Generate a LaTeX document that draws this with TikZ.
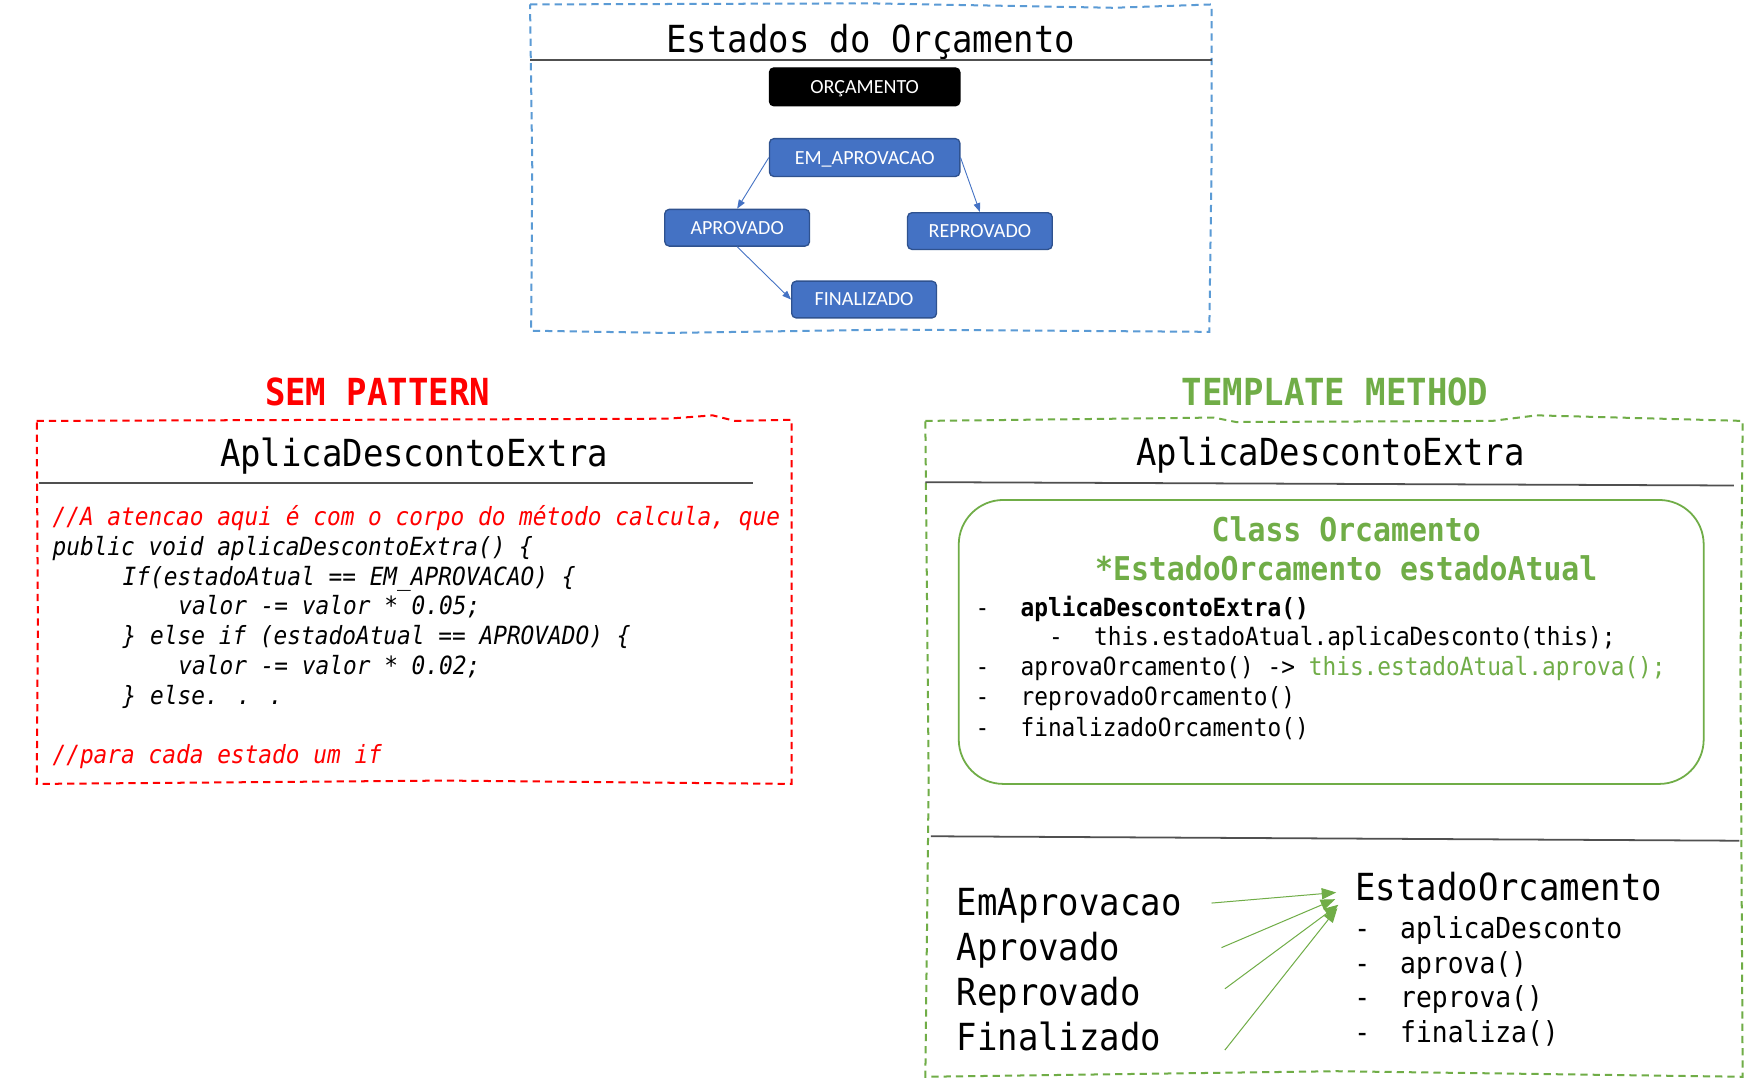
\documentclass[tikz,border=0pt]{standalone}
\usepackage{fontspec}
\setmainfont{Carlito}
\newfontfamily\monof[FakeStretch=0.91]{DejaVu Sans Mono}
\usetikzlibrary{positioning, arrows.meta}

\definecolor{boxblue}{HTML}{4472C4}
\definecolor{boxline}{HTML}{2F528F}
\definecolor{dashblue}{HTML}{5B9BD5}
\definecolor{pgreen}{HTML}{70AD47}
\definecolor{pred}{HTML}{FF0000}
\definecolor{rulegray}{HTML}{505050}

\tikzset{
    estado/.style={rectangle, rounded corners=4pt, draw=boxline, line width=1.2pt,
        fill=boxblue, text=white, minimum width=130pt, minimum height=33pt,
        text height=11.6pt, text depth=0pt, font=\fontsize{18}{20}\selectfont},
    titulo/.style={anchor=base, inner sep=0, font=\monof\fontsize{33.5}{36}\selectfont},
    codigo/.style={anchor=base west, inner sep=0, font=\monof\fontsize{22.5}{25}\selectfont},
    borda/.style={line width=1.8pt, dash pattern=on 6.5pt off 4.5pt},
    regua/.style={draw=rulegray, line width=1.6pt},
    seta/.style={draw=boxblue, line width=0.8pt, -{Triangle[length=8pt, width=6pt]}},
    setaverde/.style={draw=pgreen, line width=0.9pt, -{Triangle[length=13pt, width=10pt]}}
}

\begin{document}
\begin{tikzpicture}[x=1pt, y=-1pt]
    \fill[white] (0,0) rectangle (1568,971);
    \useasboundingbox (0,0) rectangle (1568,971);

    % estados do orcamento
    \draw[borda, dashblue] (476,4) -- (780,3) -- (1000,7) -- (1088,4) -- (1088,150)
        -- (1086,298) -- (800,296) -- (600,299) -- (477,297) -- (478,150) -- cycle;
    \node[titulo] (estTit) at (782,47) {Estados do Orçamento};
    \draw[regua] (476,54) -- (1088,54);

    \node[estado, fill=black, draw=black, minimum width=171pt, minimum height=34pt] (orc) at (776.5,78) {ORÇAMENTO};
    \node[estado, minimum width=171pt, minimum height=34pt] (emaprov) at (776.5,141.5) {EM\_APROVACAO};
    \node[estado] (aprov) at (662,204.5) {APROVADO};
    \node[estado] (reprov) at (880,207.5) {REPROVADO};
    \node[estado] (final) at (776,269) {FINALIZADO};

    \draw[seta] (emaprov.west) -- (aprov.north);
    \draw[seta] (emaprov.east) -- (reprov.north);
    \draw[seta] (aprov.south) -- (final.west);

    % sem pattern
    \node[titulo, text=pred, font=\monof\bfseries\fontsize{33.5}{36}\selectfont] (semTit) at (339,364) {SEM PATTERN};
    \draw[borda, pred] (33,378) -- (600,376) -- (640,373) -- (660,378) -- (711,377)
        -- (711,704) -- (400,701) -- (33,704) -- (34,560) -- cycle;
    \node[titulo] (semCls) at (372,419) {AplicaDescontoExtra};
    \draw[regua] (35,434) -- (676,434);

    \node[codigo, text=pred] (c1) at (47,472) {\itshape //A atencao aqui é com o corpo do método calcula, que};
    \node[codigo] (c2) at (47,499) {\itshape public void aplicaDescontoExtra() \{};
    \node[codigo] (c3) at (110,526) {\itshape If(estadoAtual == EM\_APROVACAO) \{};
    \node[codigo] (c4) at (160,552) {\itshape valor -= valor * 0.05;};
    \node[codigo] (c5) at (110,579) {\itshape \} else if (estadoAtual == APROVADO) \{};
    \node[codigo] (c6) at (160,606) {\itshape valor -= valor * 0.02;};
    \node[codigo] (c7) at (110,633) {\itshape \} else. . .};
    \node[codigo, text=pred] (c8) at (47,686) {\itshape //para cada estado um if};

    % template method
    \node[titulo, text=pgreen, font=\monof\bfseries\fontsize{33.5}{36}\selectfont] (tmTit) at (1199,364) {TEMPLATE METHOD};
    \draw[borda, pgreen] (831,378) -- (1090,375) -- (1110,379) -- (1340,378) -- (1380,373)
        -- (1565,378) -- (1563,600) -- (1565,967) -- (1200,962) -- (831,967) -- (834,700) -- cycle;
    \node[titulo] (tmCls) at (1195,418) {AplicaDescontoExtra};
    \draw[regua] (831,433) -- (1557,436);

    \draw[pgreen, line width=1.6pt, rounded corners=40pt] (861,449) rectangle (1530,704);
    \node[titulo, text=pgreen, font=\monof\bfseries\fontsize{29.4}{32}\selectfont] (orcCls) at (1209,486) {Class Orcamento};
    \node[titulo, text=pgreen, font=\monof\bfseries\fontsize{29.4}{32}\selectfont] (orcAtr) at (1209,521) {*EstadoOrcamento estadoAtual};

    \node[codigo] (m1) at (876,554) {-\hspace{28pt}\textbf{aplicaDescontoExtra()}};
    \node[codigo] (m2) at (942,580) {-\hspace{28pt}this.estadoAtual.aplicaDesconto(this);};
    \node[codigo] (m3) at (876,607) {-\hspace{28pt}aprovaOrcamento() -> \textcolor{pgreen}{this.estadoAtual.aprova();}};
    \node[codigo] (m4) at (876,634) {-\hspace{28pt}reprovadoOrcamento()};
    \node[codigo] (m5) at (876,661) {-\hspace{28pt}finalizadoOrcamento()};

    \draw[regua] (836,751) -- (1562,755);

    \node[codigo, font=\monof\fontsize{33.5}{36}\selectfont] (emAp) at (859,822) {EmAprovacao};
    \node[codigo, font=\monof\fontsize{33.5}{36}\selectfont] (ap) at (859,863) {Aprovado};
    \node[codigo, font=\monof\fontsize{33.5}{36}\selectfont] (rep) at (859,903) {Reprovado};
    \node[codigo, font=\monof\fontsize{33.5}{36}\selectfont] (fin) at (859,943) {Finalizado};

    \node[codigo, font=\monof\fontsize{33.5}{36}\selectfont] (estOrc) at (1217,809) {EstadoOrcamento};
    \foreach \txt [count=\i] in {aplicaDesconto, aprova(), reprova(), finaliza()} {
        \node[codigo, font=\monof\fontsize{26}{28}\selectfont] (e\i) at (1216,812+31*\i) {-\hspace{27pt}\txt};
    }

    \coordinate (s1) at (1088,811);
    \coordinate (s2) at (1097,851);
    \coordinate (s3) at (1100,888);
    \coordinate (s4) at (1100,943);
    \draw[setaverde] (s1) -- ([shift={(-17,5)}]estOrc.west);
    \draw[setaverde] (s2) -- ([shift={(-18,11)}]estOrc.west);
    \draw[setaverde] (s3) -- ([shift={(-15,16)}]estOrc.west);
    \draw[setaverde] (s4) -- ([shift={(-16,19)}]estOrc.west);
\end{tikzpicture}
\end{document}
